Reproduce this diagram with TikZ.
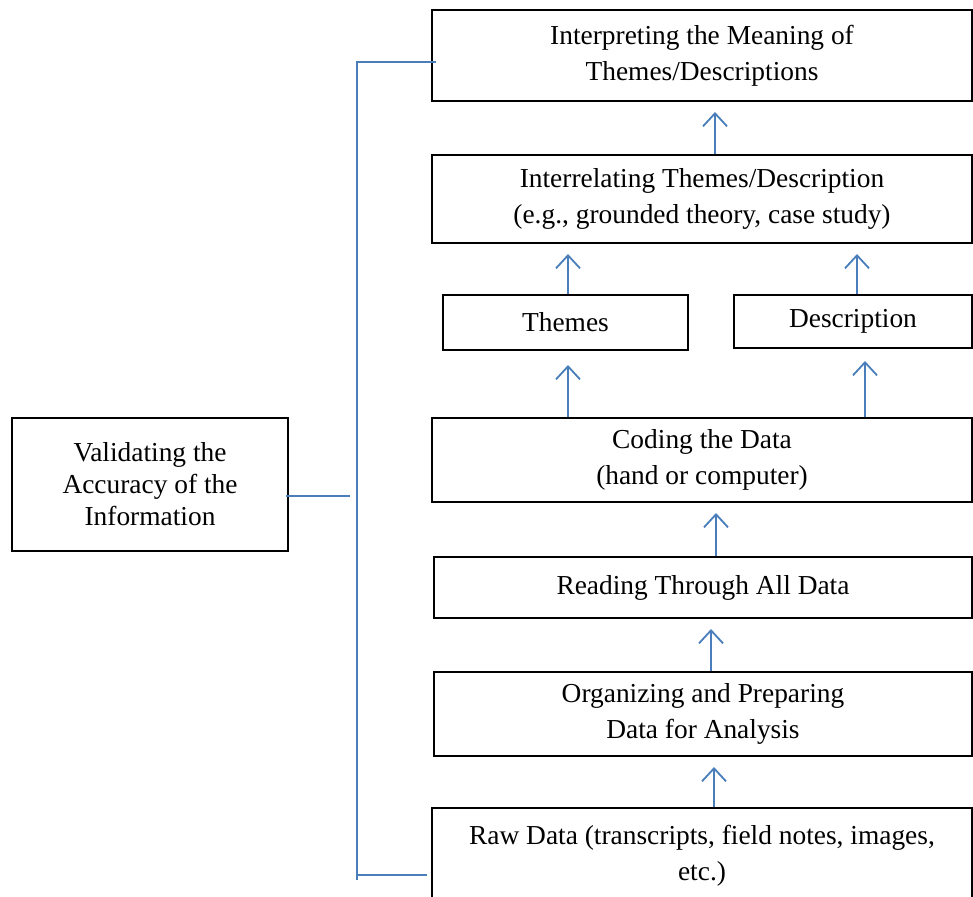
\documentclass[tikz,border=0pt]{standalone}
\usepackage{fontspec}
\setmainfont{Liberation Serif}
\usetikzlibrary{arrows.meta}
\definecolor{linkblue}{HTML}{4A7EBB}
\tikzset{
  box/.style={draw=black, line width=2pt, align=center, inner sep=0pt,
    font=\fontsize{27.4}{36}\selectfont},
  arr/.style={draw=linkblue, line width=1.8pt,
    -{Straight Barb[length=13pt,width=24pt]}, shorten >=10pt},
  link/.style={draw=linkblue, line width=1.8pt}
}
\begin{document}
\begin{tikzpicture}[x=1pt,y=-1pt]
\useasboundingbox (0,0) rectangle (973,896);
\coordinate (bt) at (357,62);
\coordinate (bb) at (357,880);
\coordinate (bm) at (350,496);
\coordinate (c1) at (714,0);
\coordinate (c2) at (711,0);
\coordinate (c3) at (716,0);
\coordinate (c4) at (568,0);
\coordinate (c5) at (865,0);
\coordinate (c6) at (857,0);
\coordinate (c7) at (715,0);

 \node[box, minimum width=540pt, minimum height=91pt] (interp) at (702,55.5)
   {Interpreting the Meaning of\\Themes/Descriptions};
 \node[box, minimum width=540pt, minimum height=88pt] (interrel) at (702,199)
   {Interrelating Themes/Description\\(e.g., grounded theory, case study)};
 \node[box, minimum width=245pt, minimum height=55pt] (themes) at (565.5,322.5) {Themes};
 \node[box, minimum width=238pt, minimum height=53pt] (descr) at (853,321.5) {Description};
 \node[box, minimum width=540pt, minimum height=84pt] (coding) at (702,460)
   {Coding the Data\\(hand or computer)};
 \node[box, minimum width=538pt, minimum height=61pt] (reading) at (703,587.5)
   {Reading Through All Data};
 \node[box, minimum width=538pt, minimum height=84pt] (organize) at (703,714)
   {Organizing and Preparing\\Data for Analysis};
 \node[box, minimum width=540pt, minimum height=96pt] (raw) at (702,856)
   {Raw Data (transcripts, field notes, images,\\etc.)};
 \node[box, minimum width=276pt, minimum height=133pt,
   font=\fontsize{27.4}{32}\selectfont] (valid) at (150,484.5)
   {Validating the\\Accuracy of the\\Information};

 \draw[arr] (raw.north -| c1) -- (organize.south -| c1);
 \draw[arr] (organize.north -| c2) -- (reading.south -| c2);
 \draw[arr] (reading.north -| c3) -- (coding.south -| c3);
 \draw[arr, shorten >=14pt] (coding.north -| c4) -- (themes.south -| c4);
 \draw[arr, shorten >=12pt] (coding.north -| c5) -- (descr.south -| c5);
 \draw[arr] (themes.north -| c4) -- (interrel.south -| c4);
 \draw[arr] (descr.north -| c6) -- (interrel.south -| c6);
 \draw[arr] (interrel.north -| c7) -- (interp.south -| c7);

 \draw[link] ([xshift=5pt]interp.west |- bt) -- (bt) -- (bb);
 \draw[link] ([xshift=-4pt]raw.west |- 0,875) -- (357,875);
 \draw[link] ([xshift=-3pt]valid.east |- bm) -- (bm);

\end{tikzpicture}
\end{document}
